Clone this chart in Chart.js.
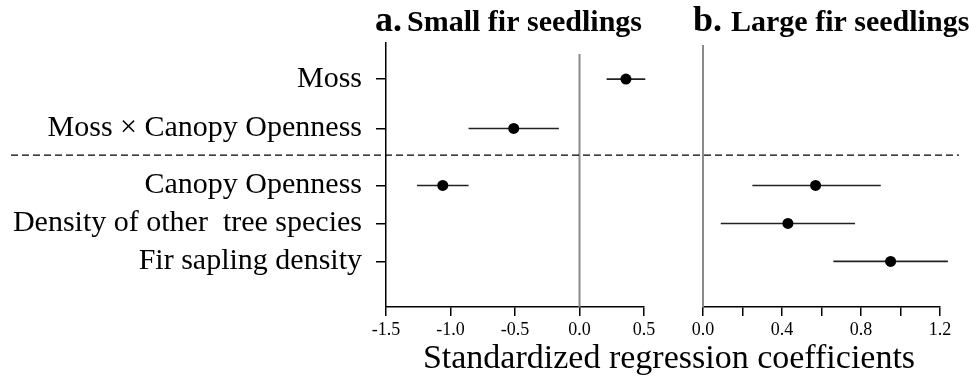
<!DOCTYPE html>
<html>
<head>
<meta charset="utf-8">
<script src="https://cdn.jsdelivr.net/npm/chart.js@4.4.1/dist/chart.umd.min.js"></script>
<style>
  body { margin: 0; background: #fff; }
  #wrap { position: relative; width: 969px; height: 377px; }
  #wrap canvas { position: absolute; left: 0; top: 0; }
</style>
</head>
<body>
<div id="wrap">
  <canvas id="chartA" width="969" height="377"></canvas>
  <canvas id="chartB" width="969" height="377"></canvas>
</div>
<script>
// predictors, top to bottom
var categories = ['Moss', 'Moss \u00d7 Canopy Openness', 'Canopy Openness', 'Density of other  tree species', 'Fir sapling density'];

// a. small fir seedlings: estimate and interval
var smallEst = [0.36, -0.51, -1.06, null, null];
var smallLo  = [0.21, -0.86, -1.26, null, null];
var smallHi  = [0.51, -0.16, -0.86, null, null];

// b. large fir seedlings
var largeEst = [null, null, 0.57, 0.43, 0.95];
var largeLo  = [null, null, 0.25, 0.09, 0.66];
var largeHi  = [null, null, 0.90, 0.77, 1.24];

var smallTicks = [-1.5, -1.0, -0.5, 0.0, 0.5];
var largeTicks = [0.0, 0.2, 0.4, 0.6, 0.8, 1.0, 1.2];
var largeTickLabels = ['0.0', '', '0.4', '', '0.8', '', '1.2'];

// layout: row positions on the y scale (0 = top), divider between the two groups
var rowPos = [0.95, 2.25, 3.75, 4.75, 5.75];
var dividerPos = 2.95;
var yMax = 6.95;

var serif = "'Liberation Serif', 'Times New Roman', serif";
Chart.defaults.font.family = serif;
Chart.defaults.color = '#000';

function points(est) {
  var out = [];
  for (var i = 0; i < est.length; i++) {
    if (est[i] !== null) out.push({ x: est[i], y: rowPos[i] });
  }
  return out;
}

function whiskers(lo, hi, zeroTop) {
  return {
    id: 'whiskers',
    beforeDatasetsDraw: function (chart) {
      var ctx = chart.ctx, x = chart.scales.x, y = chart.scales.y;
      ctx.save();
      // zero reference line
      ctx.strokeStyle = '#8a8a8a';
      ctx.lineWidth = 2;
      ctx.beginPath();
      ctx.moveTo(x.getPixelForValue(0), zeroTop);
      ctx.lineTo(x.getPixelForValue(0), chart.chartArea.bottom);
      ctx.stroke();
      // intervals
      ctx.strokeStyle = '#222';
      ctx.lineWidth = 1.6;
      for (var i = 0; i < lo.length; i++) {
        if (lo[i] === null) continue;
        var py = y.getPixelForValue(rowPos[i]);
        ctx.beginPath();
        ctx.moveTo(x.getPixelForValue(lo[i]), py);
        ctx.lineTo(x.getPixelForValue(hi[i]), py);
        ctx.stroke();
      }
      ctx.restore();
    }
  };
}

function yScale(show) {
  return {
    type: 'linear',
    reverse: true,
    min: 0,
    max: yMax,
    display: show,
    afterBuildTicks: function (s) { s.ticks = rowPos.map(function (v) { return { value: v }; }); },
    afterFit: function (s) { if (show) s.width = 386; },
    ticks: {
      font: { size: 30 },
      color: '#000',
      padding: 14,
      autoSkip: false,
      callback: function (v) { return categories[rowPos.indexOf(v)]; }
    },
    grid: { drawOnChartArea: false, drawTicks: true, tickLength: 10, color: '#000', lineWidth: 1.5 },
    border: { display: true, color: '#000', width: 1.5 }
  };
}

function xScale(min, max, ticks, labels) {
  return {
    type: 'linear',
    min: min,
    max: max,
    afterBuildTicks: function (s) { s.ticks = ticks.map(function (v) { return { value: v }; }); },
    afterFit: function (s) { s.height = 30; },
    ticks: {
      font: { size: 18 },
      color: '#000',
      padding: 3,
      maxRotation: 0,
      autoSkip: false,
      callback: function (v) {
        var i = ticks.indexOf(v);
        return labels ? labels[i] : v.toFixed(1);
      }
    },
    grid: { drawOnChartArea: false, drawTicks: true, tickLength: 9, color: '#000', lineWidth: 1.5 },
    border: { display: true, color: '#000', width: 1.5 }
  };
}

var decorA = {
  id: 'decorA',
  afterDraw: function (chart) {
    var ctx = chart.ctx;
    var py = chart.scales.y.getPixelForValue(dividerPos);
    ctx.save();
    ctx.strokeStyle = '#000';
    ctx.lineWidth = 1.3;
    ctx.setLineDash([7, 4]);
    ctx.beginPath();
    ctx.moveTo(11, py);
    ctx.lineTo(959, py);
    ctx.stroke();
    ctx.setLineDash([]);
    ctx.fillStyle = '#000';
    ctx.textBaseline = 'alphabetic';
    ctx.font = 'bold 36px ' + serif;
    ctx.fillText('a.', 375, 31);
    ctx.font = 'bold 30px ' + serif;
    ctx.fillText('Small fir seedlings', 407, 31);
    ctx.restore();
  }
};

var decorB = {
  id: 'decorB',
  afterDraw: function (chart) {
    var ctx = chart.ctx;
    ctx.save();
    ctx.fillStyle = '#000';
    ctx.textBaseline = 'alphabetic';
    ctx.font = 'bold 36px ' + serif;
    ctx.fillText('b.', 693, 31);
    ctx.font = 'bold 30px ' + serif;
    ctx.fillText('Large fir seedlings', 731, 31);
    ctx.font = '34px ' + serif;
    ctx.textAlign = 'center';
    ctx.fillText('Standardized regression coefficients', 669, 368);
    ctx.restore();
  }
};

var dotStyle = { pointRadius: 5.5, pointBackgroundColor: '#000', pointBorderWidth: 0, showLine: false };

new Chart(document.getElementById('chartA'), {
  type: 'scatter',
  data: { datasets: [Object.assign({ data: points(smallEst) }, dotStyle)] },
  options: {
    responsive: false,
    animation: false,
    devicePixelRatio: 1,
    layout: { padding: { left: 0, right: 325, top: 43, bottom: 40 } },
    plugins: { legend: { display: false }, tooltip: { enabled: false } },
    scales: {
      x: xScale(-1.5, 0.5, smallTicks, null),
      y: yScale(true)
    }
  },
  plugins: [whiskers(smallLo, smallHi, 54), decorA]
});

new Chart(document.getElementById('chartB'), {
  type: 'scatter',
  data: { datasets: [Object.assign({ data: points(largeEst) }, dotStyle)] },
  options: {
    responsive: false,
    animation: false,
    devicePixelRatio: 1,
    layout: { padding: { left: 703, right: 29, top: 43, bottom: 40 } },
    plugins: { legend: { display: false }, tooltip: { enabled: false } },
    scales: {
      x: xScale(0, 1.2, largeTicks, largeTickLabels),
      y: yScale(false)
    }
  },
  plugins: [whiskers(largeLo, largeHi, 45), decorB]
});
</script>
</body>
</html>
